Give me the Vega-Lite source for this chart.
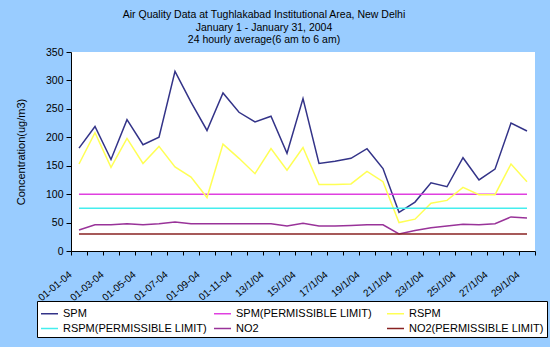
{
  "$schema": "https://vega.github.io/schema/vega-lite/v6.json",
  "width": 464,
  "height": 199,
  "autosize": "none",
  "padding": {"left": 71, "top": 52, "right": 15, "bottom": 96},
  "background": "#99CCFF",
  "config": {"view": {"fill": "white", "stroke": null}, "font": "Liberation Sans"},
  "title": {
    "text": ["Air Quality Data at Tughlakabad Institutional Area, New Delhi", "January 1 - January 31, 2004", "24 hourly average(6 am to 6 am)"],
    "fontSize": 10.5,
    "fontWeight": "normal",
    "color": "black",
    "lineHeight": 12.7,
    "anchor": "middle",
    "frame": "group",
    "dx": -39,
    "offset": 1
  },
  "data": {"values": [
    {"date": "01-01-04", "SPM": 181, "SPM(PERMISSIBLE LIMIT)": 100, "RSPM": 153, "RSPM(PERMISSIBLE LIMIT)": 75, "NO2": 37, "NO2(PERMISSIBLE LIMIT)": 30},
    {"date": "01-02-04", "SPM": 219, "SPM(PERMISSIBLE LIMIT)": 100, "RSPM": 208, "RSPM(PERMISSIBLE LIMIT)": 75, "NO2": 46, "NO2(PERMISSIBLE LIMIT)": 30},
    {"date": "01-03-04", "SPM": 161, "SPM(PERMISSIBLE LIMIT)": 100, "RSPM": 147, "RSPM(PERMISSIBLE LIMIT)": 75, "NO2": 46, "NO2(PERMISSIBLE LIMIT)": 30},
    {"date": "01-04-04", "SPM": 231, "SPM(PERMISSIBLE LIMIT)": 100, "RSPM": 198, "RSPM(PERMISSIBLE LIMIT)": 75, "NO2": 48, "NO2(PERMISSIBLE LIMIT)": 30},
    {"date": "01-05-04", "SPM": 187, "SPM(PERMISSIBLE LIMIT)": 100, "RSPM": 154, "RSPM(PERMISSIBLE LIMIT)": 75, "NO2": 46, "NO2(PERMISSIBLE LIMIT)": 30},
    {"date": "01-06-04", "SPM": 200, "SPM(PERMISSIBLE LIMIT)": 100, "RSPM": 184, "RSPM(PERMISSIBLE LIMIT)": 75, "NO2": 48, "NO2(PERMISSIBLE LIMIT)": 30},
    {"date": "01-07-04", "SPM": 316, "SPM(PERMISSIBLE LIMIT)": 100, "RSPM": 148, "RSPM(PERMISSIBLE LIMIT)": 75, "NO2": 51, "NO2(PERMISSIBLE LIMIT)": 30},
    {"date": "01-08-04", "SPM": 262, "SPM(PERMISSIBLE LIMIT)": 100, "RSPM": 130, "RSPM(PERMISSIBLE LIMIT)": 75, "NO2": 48, "NO2(PERMISSIBLE LIMIT)": 30},
    {"date": "01-09-04", "SPM": 212, "SPM(PERMISSIBLE LIMIT)": 100, "RSPM": 94, "RSPM(PERMISSIBLE LIMIT)": 75, "NO2": 48, "NO2(PERMISSIBLE LIMIT)": 30},
    {"date": "01-10-04", "SPM": 278, "SPM(PERMISSIBLE LIMIT)": 100, "RSPM": 188, "RSPM(PERMISSIBLE LIMIT)": 75, "NO2": 48, "NO2(PERMISSIBLE LIMIT)": 30},
    {"date": "01-11-04", "SPM": 244, "SPM(PERMISSIBLE LIMIT)": 100, "RSPM": 163, "RSPM(PERMISSIBLE LIMIT)": 75, "NO2": 48, "NO2(PERMISSIBLE LIMIT)": 30},
    {"date": "01-12-04", "SPM": 227, "SPM(PERMISSIBLE LIMIT)": 100, "RSPM": 136, "RSPM(PERMISSIBLE LIMIT)": 75, "NO2": 48, "NO2(PERMISSIBLE LIMIT)": 30},
    {"date": "13/1/04", "SPM": 237, "SPM(PERMISSIBLE LIMIT)": 100, "RSPM": 180, "RSPM(PERMISSIBLE LIMIT)": 75, "NO2": 48, "NO2(PERMISSIBLE LIMIT)": 30},
    {"date": "14/1/04", "SPM": 172, "SPM(PERMISSIBLE LIMIT)": 100, "RSPM": 142, "RSPM(PERMISSIBLE LIMIT)": 75, "NO2": 44, "NO2(PERMISSIBLE LIMIT)": 30},
    {"date": "15/1/04", "SPM": 268, "SPM(PERMISSIBLE LIMIT)": 100, "RSPM": 182, "RSPM(PERMISSIBLE LIMIT)": 75, "NO2": 49, "NO2(PERMISSIBLE LIMIT)": 30},
    {"date": "16/1/04", "SPM": 154, "SPM(PERMISSIBLE LIMIT)": 100, "RSPM": 117, "RSPM(PERMISSIBLE LIMIT)": 75, "NO2": 44, "NO2(PERMISSIBLE LIMIT)": 30},
    {"date": "17/1/04", "SPM": 158, "SPM(PERMISSIBLE LIMIT)": 100, "RSPM": 117, "RSPM(PERMISSIBLE LIMIT)": 75, "NO2": 44, "NO2(PERMISSIBLE LIMIT)": 30},
    {"date": "18/1/04", "SPM": 163, "SPM(PERMISSIBLE LIMIT)": 100, "RSPM": 118, "RSPM(PERMISSIBLE LIMIT)": 75, "NO2": 45, "NO2(PERMISSIBLE LIMIT)": 30},
    {"date": "19/1/04", "SPM": 180, "SPM(PERMISSIBLE LIMIT)": 100, "RSPM": 140, "RSPM(PERMISSIBLE LIMIT)": 75, "NO2": 46, "NO2(PERMISSIBLE LIMIT)": 30},
    {"date": "20/1/04", "SPM": 145, "SPM(PERMISSIBLE LIMIT)": 100, "RSPM": 122, "RSPM(PERMISSIBLE LIMIT)": 75, "NO2": 46, "NO2(PERMISSIBLE LIMIT)": 30},
    {"date": "21/1/04", "SPM": 68, "SPM(PERMISSIBLE LIMIT)": 100, "RSPM": 50, "RSPM(PERMISSIBLE LIMIT)": 75, "NO2": 30, "NO2(PERMISSIBLE LIMIT)": 30},
    {"date": "22/1/04", "SPM": 86, "SPM(PERMISSIBLE LIMIT)": 100, "RSPM": 56, "RSPM(PERMISSIBLE LIMIT)": 75, "NO2": 36, "NO2(PERMISSIBLE LIMIT)": 30},
    {"date": "23/1/04", "SPM": 120, "SPM(PERMISSIBLE LIMIT)": 100, "RSPM": 84, "RSPM(PERMISSIBLE LIMIT)": 75, "NO2": 41, "NO2(PERMISSIBLE LIMIT)": 30},
    {"date": "24/1/04", "SPM": 113, "SPM(PERMISSIBLE LIMIT)": 100, "RSPM": 89, "RSPM(PERMISSIBLE LIMIT)": 75, "NO2": 44, "NO2(PERMISSIBLE LIMIT)": 30},
    {"date": "25/1/04", "SPM": 164, "SPM(PERMISSIBLE LIMIT)": 100, "RSPM": 112, "RSPM(PERMISSIBLE LIMIT)": 75, "NO2": 47, "NO2(PERMISSIBLE LIMIT)": 30},
    {"date": "26/1/04", "SPM": 125, "SPM(PERMISSIBLE LIMIT)": 100, "RSPM": 99, "RSPM(PERMISSIBLE LIMIT)": 75, "NO2": 46, "NO2(PERMISSIBLE LIMIT)": 30},
    {"date": "27/1/04", "SPM": 144, "SPM(PERMISSIBLE LIMIT)": 100, "RSPM": 99, "RSPM(PERMISSIBLE LIMIT)": 75, "NO2": 48, "NO2(PERMISSIBLE LIMIT)": 30},
    {"date": "28/1/04", "SPM": 225, "SPM(PERMISSIBLE LIMIT)": 100, "RSPM": 153, "RSPM(PERMISSIBLE LIMIT)": 75, "NO2": 60, "NO2(PERMISSIBLE LIMIT)": 30},
    {"date": "29/1/04", "SPM": 211, "SPM(PERMISSIBLE LIMIT)": 100, "RSPM": 122, "RSPM(PERMISSIBLE LIMIT)": 75, "NO2": 58, "NO2(PERMISSIBLE LIMIT)": 30}
  ]},
  "transform": [
    {"fold": ["SPM", "SPM(PERMISSIBLE LIMIT)", "RSPM", "RSPM(PERMISSIBLE LIMIT)", "NO2", "NO2(PERMISSIBLE LIMIT)"], "as": ["series", "value"]}
  ],
  "mark": {"type": "line", "strokeWidth": 1.5},
  "encoding": {
    "x": {
      "field": "date",
      "type": "nominal",
      "sort": null,
      "bandPosition": 0.5,
      "scale": {"type": "band", "paddingInner": 0, "paddingOuter": 0},
      "axis": {
        "title": null,
        "labelAngle": -40,
        "labelAlign": "right",
        "labelBaseline": "middle",
        "labelFontSize": 10,
        "labelColor": "black",
        "tickBand": "extent",
        "tickSize": 4,
        "tickColor": "black",
        "domainColor": "black",
        "labelPadding": 18,
        "labelOffset": -9,
        "labelOverlap": false,
        "labelExpr": "indexof(['01-01-04','01-03-04','01-05-04','01-07-04','01-09-04','01-11-04','13/1/04','15/1/04','17/1/04','19/1/04','21/1/04','23/1/04','25/1/04','27/1/04','29/1/04'], datum.value) >= 0 ? datum.label : ''"
      }
    },
    "y": {
      "field": "value",
      "type": "quantitative",
      "scale": {"domain": [0, 350], "nice": false},
      "axis": {
        "values": [0, 50, 100, 150, 200, 250, 300, 350],
        "title": "Concentration(ug/m3)",
        "titleFontSize": 11,
        "titleFontWeight": "normal",
        "titleColor": "black",
        "titlePadding": 19,
        "labelFontSize": 10.5,
        "labelColor": "black",
        "labelPadding": 3,
        "tickSize": 5,
        "tickColor": "black",
        "domainColor": "black",
        "grid": false
      }
    },
    "color": {
      "field": "series",
      "type": "nominal",
      "scale": {
        "domain": ["SPM", "SPM(PERMISSIBLE LIMIT)", "RSPM", "RSPM(PERMISSIBLE LIMIT)", "NO2", "NO2(PERMISSIBLE LIMIT)"],
        "range": ["#333388", "#E040E0", "#FFFF55", "#44EEEE", "#993399", "#882222"]
      },
      "legend": {
        "orient": "none",
        "legendX": -34,
        "legendY": 249,
        "direction": "horizontal",
        "columns": 3,
        "gridAlign": "all",
        "title": null,
        "symbolType": "stroke",
        "symbolSize": 289,
        "symbolStrokeWidth": 1.5,
        "labelFontSize": 11,
        "labelColor": "black",
        "labelOffset": 4,
        "labelLimit": 200,
        "columnPadding": 4,
        "rowPadding": 0,
        "padding": 3,
        "fillColor": "white",
        "strokeColor": "black"
      }
    }
  }
}
